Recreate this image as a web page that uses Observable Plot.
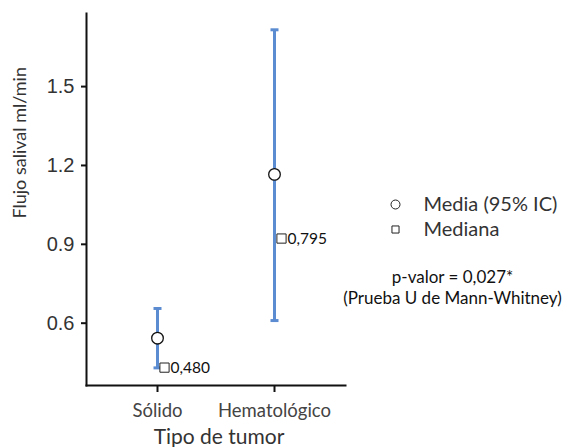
<!DOCTYPE html>
<html>
<head>
<meta charset="utf-8">
<script src="https://cdn.jsdelivr.net/npm/d3@7"></script>
<script src="https://cdn.jsdelivr.net/npm/@observablehq/plot@0.6"></script>
<style>
  body { margin: 0; background: white; }
</style>
</head>
<body>
<div id="chart"></div>
<script>
const categories = ["Sólido", "Hematológico"];
const means = [0.543, 1.166];
const ciLow = [0.430, 0.610];
const ciHigh = [0.656, 1.716];
const medians = [0.480, 0.795];
const medianLabelY = [0.431, 0.922];
const yTicks = [0.6, 0.9, 1.2, 1.5];
const legendLabels = ["Media (95% IC)", "Mediana"];
const legendSymbols = ["circle", "square"];
const noteLines = ["p-valor = 0,027*", "(Prueba U de Mann-Whitney)"];

const rows = categories.map((c, i) => ({
  cat: c, mean: means[i], lo: ciLow[i], hi: ciHigh[i],
  median: medians[i], labelY: medianLabelY[i]
}));
const blue = "#5b8bd0";
const labelFont = "Lato, 'Open Sans', sans-serif";
const fmtMedian = d3.format(".3f");
const capSymbol = {
  draw(ctx, size) {
    const w = Math.sqrt(size / Math.PI);
    ctx.moveTo(-w, 0);
    ctx.lineTo(w, 0);
  }
};

const legendMarks = [];
legendLabels.forEach((lab, i) => {
  legendMarks.push(Plot.dot([lab], { frameAnchor: "top-right", symbol: legendSymbols[i], dx: 50, dy: 191 + i * 25, r: i === 0 ? 4.5 : 4, fill: "white", stroke: "#222", strokeWidth: 1 }));
  legendMarks.push(Plot.text([lab], { frameAnchor: "top-right", lineAnchor: "middle", dx: 78, dy: 191 + i * 25, textAnchor: "start", fontSize: 20, fill: "#333" }));
});
noteLines.forEach((t, i) => {
  legendMarks.push(Plot.text([t], { frameAnchor: "top-right", lineAnchor: "middle", dx: 107, dy: 264 + i * 21, textAnchor: "middle", fontSize: 17, fill: "#111" }));
});

const chart = Plot.plot({
  width: 566,
  height: 447,
  marginLeft: 86,
  marginRight: 221,
  marginTop: 13,
  marginBottom: 62,
  style: { fontFamily: labelFont, background: "white", color: "#222" },
  x: { type: "point", domain: categories, padding: 0.6, label: null },
  y: { domain: [0.363, 1.778], label: null },
  marks: [
    Plot.ruleX(rows, { x: "cat", y1: "lo", y2: "hi", stroke: blue, strokeWidth: 3 }),
    Plot.dot(rows, { x: "cat", y: "lo", symbol: capSymbol, r: 4, stroke: blue, strokeWidth: 3, fill: "none" }),
    Plot.dot(rows, { x: "cat", y: "hi", symbol: capSymbol, r: 4, stroke: blue, strokeWidth: 3, fill: "none" }),
    Plot.dot(rows, { x: "cat", y: "mean", r: 5.8, fill: "white", stroke: "#111", strokeWidth: 1.3 }),
    Plot.dot(rows, { x: "cat", y: "labelY", symbol: "square", r: 5.2, dx: 7, fill: "white", stroke: "#222", strokeWidth: 1 }),
    Plot.text(rows, { x: "cat", y: "labelY", text: d => fmtMedian(d.median).replace(".", ","), dx: 13, textAnchor: "start", fontSize: 15.5, fill: "#111" }),
    Plot.axisY({ ticks: yTicks, tickFormat: d3.format(".1f"), tickSize: 5, tickPadding: 7, fontSize: 20, fontFamily: "'Liberation Sans', Arial, sans-serif", strokeWidth: 2, stroke: "#111", fill: "#333", label: null }),
    Plot.axisX({ tickSize: 7, tickPadding: 11, fontSize: 18.5, strokeWidth: 2, stroke: "#111", fill: "#444", label: null }),
    Plot.frame({ anchor: "left", strokeWidth: 2, stroke: "#111" }),
    Plot.frame({ anchor: "bottom", strokeWidth: 2, stroke: "#111" }),
    Plot.text(["Tipo de tumor"], { frameAnchor: "bottom", lineAnchor: "middle", dy: 52, dx: 3, fontSize: 21, fill: "#333" }),
    Plot.text(["Flujo salival ml/min"], { frameAnchor: "left", rotate: -90, dx: -66, dy: 19, fontSize: 18, fill: "#333" }),
    ...legendMarks
  ]
});
document.getElementById("chart").appendChild(chart);
</script>
</body>
</html>
